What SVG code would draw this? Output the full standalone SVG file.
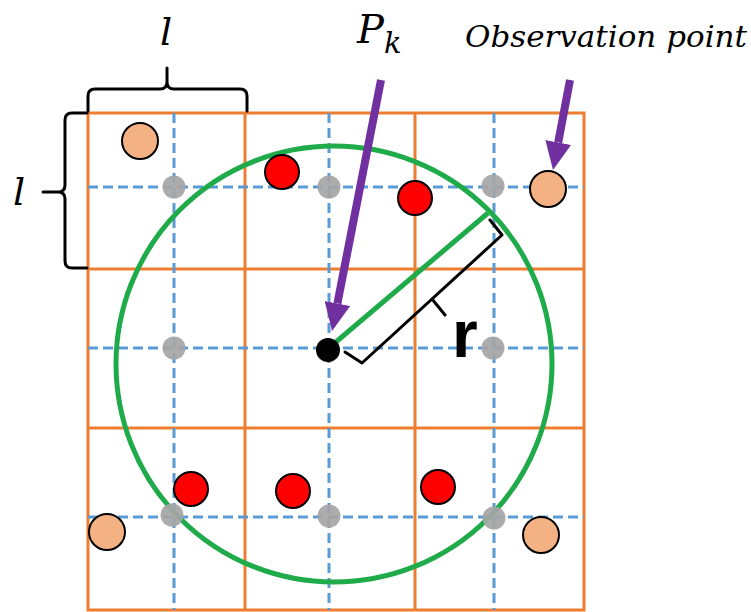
<svg xmlns="http://www.w3.org/2000/svg" width="751" height="612" viewBox="0 0 751 612">
  <defs>
    <marker id="ah" viewBox="0 -13 28 26" refX="0" refY="0" markerWidth="28" markerHeight="26" markerUnits="userSpaceOnUse" orient="auto">
      <path d="M0,-13 L28,0 L0,13 Z" fill="#7030a0"/>
    </marker>
  </defs>
  <style>
    .grid { stroke: #ed7d31; stroke-width: 3; fill: none; }
    .dash { stroke: #5b9bd5; stroke-width: 3; stroke-dasharray: 10 5; fill: none; }
    .gray { fill: #a5a5a5; opacity: 0.92; }
    .red { fill: #ff0000; stroke: #000; stroke-width: 2; }
    .obs { fill: #f4b183; stroke: #000; stroke-width: 2; }
    .green { stroke: #1fab4a; stroke-width: 5; fill: none; }
    .brace { stroke: #000; stroke-width: 3; fill: none; stroke-linecap: round; stroke-linejoin: round; }
    .arrow { stroke: #7030a0; stroke-width: 8; fill: none; marker-end: url(#ah); }
    .it { font-family: "DejaVu Serif", "Liberation Serif", serif; font-style: italic; fill: #000; }
  </style>
  <rect width="751" height="612" fill="#fff"/>

  <g id="grid">
    <rect class="grid" x="88" y="113" width="496" height="497"/>
    <line class="grid" x1="245" y1="113" x2="245" y2="610"/>
    <line class="grid" x1="415" y1="113" x2="415" y2="610"/>
    <line class="grid" x1="88" y1="269" x2="584" y2="269"/>
    <line class="grid" x1="88" y1="428" x2="584" y2="428"/>
  </g>
  <g id="dashed-lines">
    <line class="dash" x1="88" y1="187" x2="584" y2="187"/>
    <line class="dash" x1="88" y1="348" x2="584" y2="348"/>
    <line class="dash" x1="88" y1="517" x2="584" y2="517"/>
    <line class="dash" x1="174" y1="113" x2="174" y2="610"/>
    <line class="dash" x1="329" y1="113" x2="329" y2="610"/>
    <line class="dash" x1="494" y1="113" x2="494" y2="610"/>
  </g>

  <g id="range-circle">
    <circle class="green" cx="334" cy="364" r="218"/>
  </g>

  <g id="grid-points">
    <circle class="gray" cx="174" cy="187" r="11.5"/>
    <circle class="gray" cx="329" cy="187" r="11.5"/>
    <circle class="gray" cx="493" cy="186" r="11.5"/>
    <circle class="gray" cx="174" cy="348" r="11.5"/>
    <circle class="gray" cx="493" cy="348" r="11.5"/>
    <circle class="gray" cx="172" cy="515" r="11.5"/>
    <circle class="gray" cx="329" cy="516" r="11.5"/>
    <circle class="gray" cx="494" cy="518" r="11.5"/>
  </g>

  <g id="red-points">
    <circle class="red" cx="282" cy="172" r="17"/>
    <circle class="red" cx="415" cy="198" r="17"/>
    <circle class="red" cx="191" cy="489" r="17"/>
    <circle class="red" cx="293" cy="491" r="17"/>
    <circle class="red" cx="438" cy="487" r="17"/>
  </g>

  <g id="observation-points">
    <circle class="obs" cx="140" cy="141" r="18"/>
    <circle class="obs" cx="548" cy="189" r="18"/>
    <circle class="obs" cx="107" cy="532" r="18"/>
    <circle class="obs" cx="541" cy="535" r="18"/>
  </g>

  <g id="connectors">
    <line class="green" x1="330" y1="347" x2="488" y2="213"/>
    <path class="brace" d="M345,352 L362,363 L502,235 L490,220 M432,299 L445,315"/>
    <line class="arrow" x1="381" y1="80" x2="337.4" y2="303.5"/>
    <line class="arrow" x1="570" y1="80" x2="558.2" y2="142.5"/>
  </g>

  <g id="pk-point">
    <circle cx="328" cy="350" r="12" fill="#000"/>
  </g>

  <g id="brace-top">
    <path class="brace" d="M88,111 V96 Q88,89 95,89 H160 Q167,89 167,82 V68 M167,82 Q167,89 174,89 H240 Q247,89 247,96 V111"/>
    <text class="it" x="166" y="45" font-size="38" text-anchor="middle">l</text>
  </g>
  <g id="brace-left">
    <path class="brace" d="M87,113 H72 Q65,113 65,120 V185 Q65,192 58,192 H43 M58,192 Q65,192 65,199 V261 Q65,268 72,268 H87"/>
    <text class="it" x="19" y="205" font-size="38" text-anchor="middle">l</text>
  </g>

  <g id="label-pk">
    <text class="it" x="357" y="43" font-size="40">P</text>
    <text class="it" x="384" y="53" font-size="29">k</text>
  </g>
  <g id="label-observation">
    <text class="it" x="465" y="47" font-size="29" textLength="282" lengthAdjust="spacingAndGlyphs">Observation point</text>
  </g>
  <g id="label-r">
    <text x="452" y="357" font-family="Liberation Sans, Arial, sans-serif" font-weight="bold" font-size="66">r</text>
  </g>
</svg>
